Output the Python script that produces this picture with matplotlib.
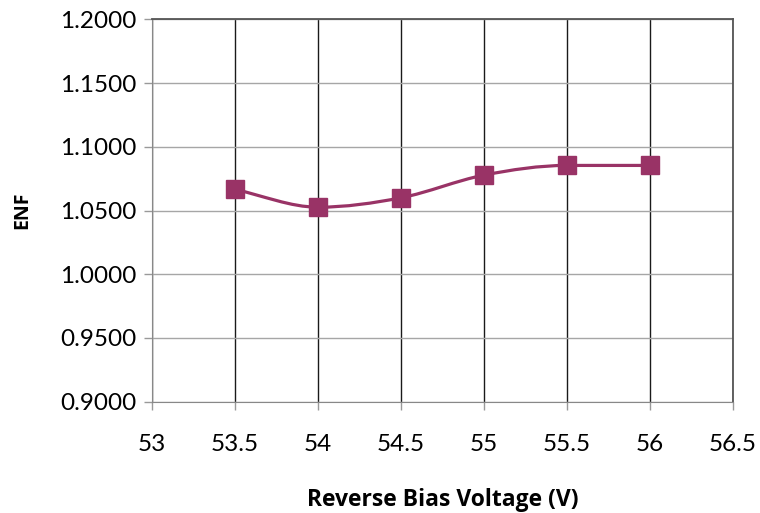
import numpy as np
import matplotlib
matplotlib.use("Agg")
import matplotlib.pyplot as plt
from matplotlib.path import Path
from matplotlib.patches import PathPatch

voltage = [53.5, 54.0, 54.5, 55.0, 55.5, 56.0]
enf = [1.0665, 1.0526, 1.0600, 1.0778, 1.0854, 1.0854]
x_ticks = [53, 53.5, 54, 54.5, 55, 55.5, 56, 56.5]
y_ticks = [0.90, 0.95, 1.00, 1.05, 1.10, 1.15, 1.20]

color = "#993366"
plt.rcParams['font.family'] = ['Lato', 'DejaVu Sans']

fig = plt.figure(figsize=(7.6, 5.13), dpi=100)
ax = fig.add_axes([0.2, 0.2173, 0.7645, 0.7447])
ax.set_xlim(53, 56.5)
ax.set_ylim(0.9, 1.2)

# smoothed line via cubic Bezier segments with monotone-limited tangents
xs = np.array(voltage, dtype=float); ys = np.array(enf, dtype=float)
n = len(xs)
d = np.diff(ys) / np.diff(xs)
m = np.zeros(n)
m[0] = d[0]; m[-1] = d[-1]
for i in range(1, n - 1):
    if d[i - 1] * d[i] <= 0:
        m[i] = 0.0
    else:
        m[i] = (ys[i + 1] - ys[i - 1]) / (xs[i + 1] - xs[i - 1])
verts = [(xs[0], ys[0])]
codes = [Path.MOVETO]
for i in range(n - 1):
    h = xs[i + 1] - xs[i]
    c1 = (xs[i] + h / 3, ys[i] + m[i] * h / 3)
    c2 = (xs[i + 1] - h / 3, ys[i + 1] - m[i + 1] * h / 3)
    verts += [c1, c2, (xs[i + 1], ys[i + 1])]
    codes += [Path.CURVE4] * 3
ax.add_patch(PathPatch(Path(verts, codes), facecolor='none', edgecolor=color,
                       lw=2.3, zorder=3))
ax.plot(voltage, enf, linestyle='none', marker='s', markersize=13,
        color=color, zorder=4)

ax.set_xticks(x_ticks)
ax.set_xticklabels([f"{v:g}" for v in x_ticks])
ax.set_yticks(y_ticks)
ax.set_yticklabels([f"{v:.4f}" for v in y_ticks])
ax.tick_params(axis='both', labelsize=17.5, direction='out', length=6,
               color='#999999', width=1)
ax.tick_params(axis='x', pad=17.5)
ax.tick_params(axis='y', pad=5)

ax.xaxis.grid(True, color='#1a1a1a', lw=1.0)
ax.yaxis.grid(True, color='#a6a6a6', lw=1.0)
ax.set_axisbelow(True)
for s in ['left', 'bottom']:
    ax.spines[s].set_color('#888888')
for s in ['top', 'right']:
    ax.spines[s].set_color('#555555')
    ax.spines[s].set_linewidth(1.3)

lab_font = ['Open Sans', 'DejaVu Sans']
ax.set_xlabel("Reverse Bias Voltage (V)", fontsize=16.5, fontweight='bold',
              family=lab_font, labelpad=24)
ax.set_ylabel("ENF", fontsize=14, fontweight='bold', family=lab_font, labelpad=20)

fig.savefig("out.png", dpi=100)
